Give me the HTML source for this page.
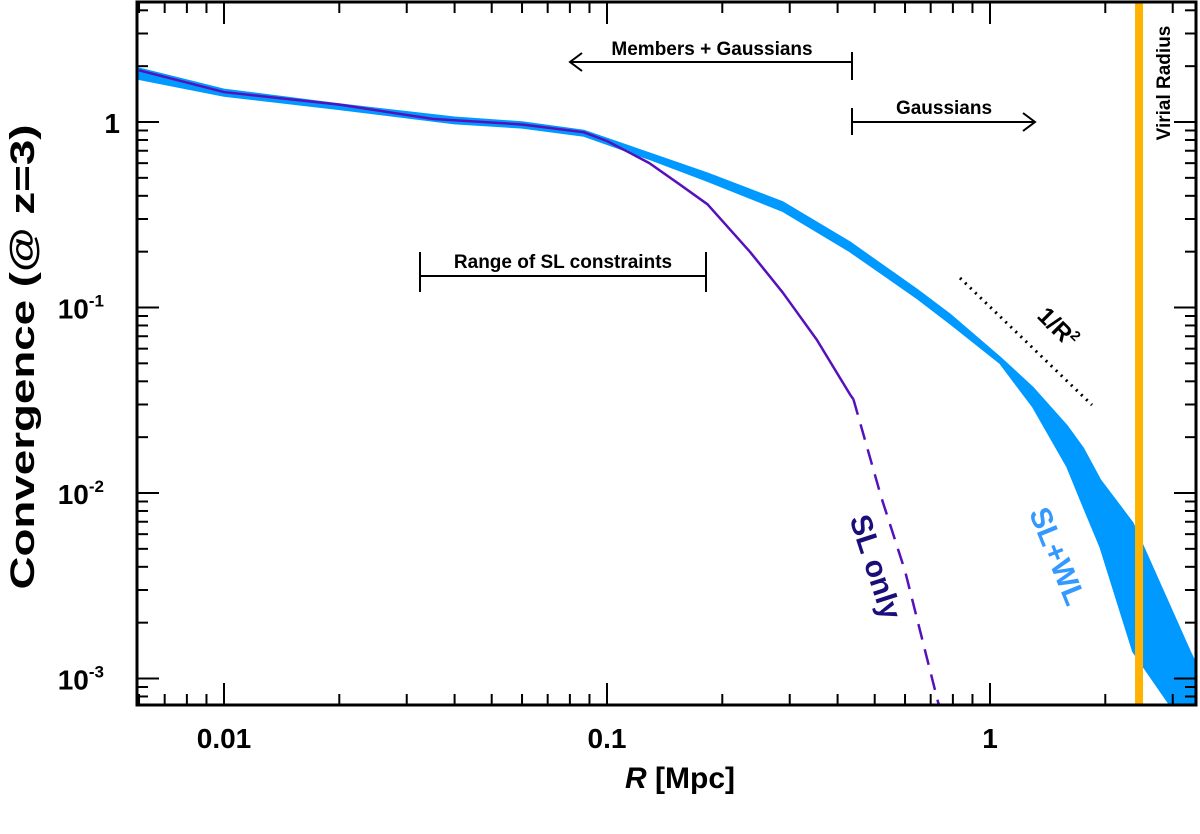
<!DOCTYPE html>
<html><head><meta charset="utf-8"><style>
body{margin:0;background:#fff}
svg text{font-family:"Liberation Sans",sans-serif;font-weight:bold}
</style></head><body>
<svg id="c" width="1200" height="829" viewBox="0 0 1200 829" xmlns="http://www.w3.org/2000/svg">
<g id="marks"></g>
<g id="axes"></g>
<g stroke="#000" stroke-width="2" fill="none">
<line x1="852" y1="52" x2="852" y2="80"/><line x1="852" y1="62" x2="570" y2="62"/><polyline points="582,53 570,62 582,71"/>
<line x1="852" y1="108" x2="852" y2="135"/><line x1="852" y1="122" x2="1035" y2="122"/><polyline points="1023,113 1035,122 1023,131"/>
<line x1="420" y1="252" x2="420" y2="292"/><line x1="706" y1="252" x2="706" y2="292"/><line x1="420" y1="276" x2="706" y2="276"/>
<line x1="960" y1="278" x2="1092" y2="405" stroke-dasharray="2,5" stroke-width="3"/>
</g>
<text x="712" y="55" font-size="19" text-anchor="middle">Members + Gaussians</text>
<text x="944" y="114" font-size="19" text-anchor="middle">Gaussians</text>
<text x="563" y="268" font-size="19" text-anchor="middle">Range of SL constraints</text>
<text x="1052" y="333" font-size="24" text-anchor="middle" transform="rotate(45 1052 333)">1/R<tspan font-size="14" dy="-10">2</tspan></text>
<text x="866" y="570" font-size="30" fill="#1a0f7a" text-anchor="middle" transform="rotate(72 866 570)">SL only</text>
<text x="1048" y="560" font-size="30" fill="#3399ff" text-anchor="middle" transform="rotate(68 1048 560)">SL+WL</text>
<text x="1170" y="83" font-size="19" text-anchor="middle" transform="rotate(-90 1170 83)">Virial Radius</text>
<text x="680" y="788" font-size="30" text-anchor="middle"><tspan font-style="italic">R</tspan> [Mpc]</text>
<text x="34" y="357" font-size="34" text-anchor="middle" textLength="465" lengthAdjust="spacingAndGlyphs" transform="rotate(-90 34 357)">Convergence (@ z=3)</text>
</svg>
<script>
const bandR=[0.006,0.01,0.02,0.04,0.06,0.087,0.129,0.183,0.288,0.431,0.645,0.786,1.062,1.295,1.59,1.75,1.94,2.36,3.33,3.6];
const bandHi=[1.95,1.5,1.25,1.06,1.0,0.9,0.68,0.53,0.37,0.225,0.125,0.092,0.054,0.037,0.023,0.0175,0.0118,0.0069,0.0014,0.001];
const bandLo=[1.7,1.38,1.17,0.98,0.93,0.84,0.63,0.48,0.33,0.2,0.112,0.082,0.05,0.029,0.0138,0.0085,0.0051,0.0014,0.0005,0.0005];
const slR=[0.006,0.01,0.02,0.035,0.06,0.087,0.1,0.115,0.129,0.155,0.183,0.236,0.288,0.353,0.431,0.44];
const slV=[1.9,1.45,1.24,1.04,0.97,0.88,0.79,0.68,0.6,0.46,0.36,0.2,0.12,0.067,0.034,0.032];
const slExtR=[0.44,0.52,0.6,0.73,0.8];
const slExtV=[0.032,0.0095,0.0038,0.00076,0.0004];
const virialR=2.45;
const xTicks=[0.01,0.1,1];const xTickLabels=["0.01","0.1","1"];
const yTicks=[1,0.1,0.01,0.001];const yTickLabels=["1","10","10","10"];const yExp=["","-1","-2","-3"];
const L=137,R=1196,T=2,B=705;
const X=r=>990+383*Math.log10(r), Y=v=>122-185.5*Math.log10(v);
const NS="http://www.w3.org/2000/svg";
function mk(t,a,p){const e=document.createElementNS(NS,t);for(const k in a)e.setAttribute(k,a[k]);p.appendChild(e);return e;}
const m=document.getElementById('marks'),ax=document.getElementById('axes');
const cp=mk('clipPath',{id:'cp'},m);mk('rect',{x:L,y:T,width:R-L,height:B-T},cp);
let d=bandR.map((r,i)=>(i?'L':'M')+X(r)+','+Y(bandHi[i])).join('')+bandR.slice().reverse().map((r,i)=>'L'+X(r)+','+Y(bandLo[bandR.length-1-i])).join('')+'Z';
const band=mk('path',{d:d,fill:'#0099ff',stroke:'#0099ff','stroke-width':1.5,'stroke-linejoin':'round','clip-path':'url(#cp)'},m);


const sl=mk('path',{d:slR.map((r,i)=>(i?'L':'M')+X(r)+','+Y(slV[i])).join(''),fill:'none',stroke:'#5511bb','stroke-width':2.5,'stroke-linejoin':'round'},m);


const sle=mk('path',{d:slExtR.map((r,i)=>(i?'L':'M')+X(r)+','+Y(slExtV[i])).join(''),fill:'none',stroke:'#5511bb','stroke-width':2.5,'stroke-dasharray':'16,10','clip-path':'url(#cp)'},m);


const vl=mk('line',{x1:X(virialR),x2:X(virialR),y1:T,y2:B,stroke:'#ffb300','stroke-width':8},m);


const fr=mk('rect',{x:L,y:T,width:R-L,height:B-T,fill:'none',stroke:'#000','stroke-width':3},ax);


for(let e=-3;e<=1;e++)for(let k=1;k<10;k++){const r=k*Math.pow(10,e),x=X(r);if(x<L||x>R)continue;const len=k==1?22:11;
mk('line',{x1:x,x2:x,y1:B,y2:B-len,stroke:'#000','stroke-width':2},ax);mk('line',{x1:x,x2:x,y1:T,y2:T+len,stroke:'#000','stroke-width':2},ax);}
for(let e=-4;e<=1;e++)for(let k=1;k<10;k++){const v=k*Math.pow(10,e),y=Y(v);if(y<T||y>B)continue;const len=k==1?22:11;
mk('line',{x1:L,x2:L+len,y1:y,y2:y,stroke:'#000','stroke-width':2},ax);mk('line',{x1:R,x2:R-len,y1:y,y2:y,stroke:'#000','stroke-width':2},ax);}
xTicks.forEach((r,i)=>{const t=mk('text',{x:X(r),y:748,'font-size':28,'text-anchor':'middle'},ax);t.textContent=xTickLabels[i];

});
yTicks.forEach((v,i)=>{const t=mk('text',{x:yExp[i]?104:120,y:Y(v)+11,'font-size':28,'text-anchor':'end'},ax);t.textContent=yTickLabels[i];
if(yExp[i]){const s=mk('tspan',{dy:-12,'font-size':17},t);s.textContent=yExp[i];}

});
</script>
</body></html>
